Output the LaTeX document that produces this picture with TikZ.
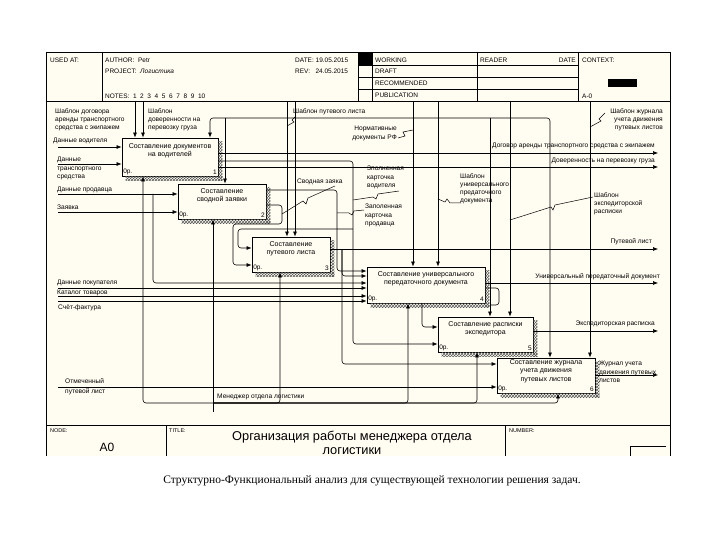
\documentclass[tikz,border=0pt]{standalone}
\usepackage{fontspec}
\setmainfont{Liberation Sans}
\newfontfamily\capfont{Liberation Serif}
\usetikzlibrary{arrows.meta,patterns}
\definecolor{cream}{RGB}{255,253,242}

\tikzset{
frm/.style={line width=1pt},
thn/.style={line width=0.6pt},
ln/.style={line width=0.6pt, rounded corners=3pt},
arr/.style={line width=0.6pt, rounded corners=3pt, -{Latex[length=5pt,width=4pt]}},
sq/.style={line width=0.5pt},
fbox/.style={draw, line width=0.9pt, fill=cream, inner sep=0pt},
btxt/.style={font=\fontsize{7}{8.2}\selectfont, align=center, inner sep=0pt},
bnum/.style={font=\fontsize{6.5}{7}\selectfont, inner sep=1.5pt},
lbl/.style={font=\fontsize{6.6}{8.3}\selectfont, inner sep=0pt, align=left},
rlbl/.style={font=\fontsize{6.6}{8.3}\selectfont, inner sep=0pt, align=right},
hd/.style={font=\fontsize{6.5}{7.5}\selectfont, inner sep=0pt, anchor=west},
}
\newcommand{\hatchbox}[1]{%
\fill[pattern=crosshatch, pattern color=black!65] ([yshift=-4pt]#1.north east) rectangle ([shift={(4pt,-4pt)}]#1.south east);
\fill[pattern=crosshatch, pattern color=black!65] ([xshift=4pt]#1.south west) rectangle ([shift={(4pt,-4pt)}]#1.south east);}

\begin{document}
\begin{tikzpicture}[x=1pt,y=-1pt]
\useasboundingbox (0,0) rectangle (720,540);
% frame
\fill[cream] (46,53) rectangle (670,456);
\draw[frm] (46,456) -- (46,53) -- (670,53) -- (670,456);
\draw[frm] (46,102) -- (670,102);
\draw[frm] (46,425) -- (670,425);
% header
\draw[thn] (102,53) -- (102,102);
\foreach \x in {358,372,477,578} {
\draw[thn] (\x,53) -- (\x,102);
}
\foreach \y in {65,77,89} {
\draw[thn] (358,\y) -- (578,\y);
}
\fill (358,53) rectangle (372,65);
\fill (608,79) rectangle (637,87);
\node[hd] (usedat) at (50,60) {USED AT:};
\node[hd] (author) at (105,60) {AUTHOR:\ \ Petr};
\node[hd] (project) at (105,71) {PROJECT:\ \ \textit{Логистика}};
\node[hd] (notes) at (105,96) {NOTES:\ \ 1\ \ 2\ \ 3\ \ 4\ \ 5\ \ 6\ \ 7\ \ 8\ \ 9\ \ 10};
\node[hd] (date) at (295,60) {DATE:\ 19.05.2015};
\node[hd] (rev) at (295,71) {REV:\ \ \ 24.05.2015};
\node[hd] (working) at (375,60) {WORKING};
\node[hd] (draft) at (375,71.5) {DRAFT};
\node[hd] (recom) at (375,83) {RECOMMENDED};
\node[hd] (publ) at (375,95) {PUBLICATION};
\node[hd] (reader) at (480,60) {READER};
\node[hd, anchor=east] (rdate) at (576,60) {DATE};
\node[hd] (context) at (582,60) {CONTEXT:};
\node[hd] (anull) at (582,96) {A-0};
% title block
\draw[thn] (166,425) -- (166,456);
\draw[thn] (505,425) -- (505,456);
\draw[thn] (630,456) -- (630,446) -- (666,446);
\node[hd, font=\fontsize{5.5}{6}\selectfont] (node) at (50,431) {NODE:};
\node[hd, font=\fontsize{5.5}{6}\selectfont] (title) at (169,431) {TITLE:};
\node[hd, font=\fontsize{5.5}{6}\selectfont] (number) at (509,431) {NUMBER:};
\node[font=\fontsize{12}{13}\selectfont, inner sep=0pt] (nodeA) at (107,447) {A0};
\node[font=\fontsize{12.8}{14}\selectfont, align=center, inner sep=0pt] (ttl) at (352,442.5) {Организация работы менеджера отдела\\логистики};
\node[font=\capfont\fontsize{11.5}{13}\selectfont, inner sep=0pt] (cap) at (372,481) {Структурно-Функциональный анализ для существующей технологии решения задач.};

% boxes
\node[fbox, minimum width=96pt, minimum height=38pt] (b1) at (170,157) {};
\node[fbox, minimum width=88pt, minimum height=35pt] (b2) at (222,201.5) {};
\node[fbox, minimum width=78pt, minimum height=35pt] (b3) at (291,254.5) {};
\node[fbox, minimum width=118pt, minimum height=36pt] (b4) at (426,285) {};
\node[fbox, minimum width=95pt, minimum height=35pt] (b5) at (485.5,334.5) {};
\node[fbox, minimum width=98pt, minimum height=35pt] (b6) at (546,375.5) {};
\foreach \b/\n in {b1/1,b2/2,b3/3,b4/4,b5/5,b6/6} {
\hatchbox{\b}
\node[bnum, anchor=south west] (\b o) at (\b.south west) {0р.};
\node[bnum, anchor=south east] (\b n) at (\b.south east) {\n};
}
\node[btxt, anchor=north] (b1t) at ([yshift=-6pt]b1.north) {Составление документов\\на водителей};
\node[btxt, anchor=north] (b2t) at ([yshift=-5pt]b2.north) {Составление\\сводной заявки};
\node[btxt, anchor=north] (b3t) at ([yshift=-5pt]b3.north) {Составление\\путевого листа};
\node[btxt, anchor=north] (b4t) at ([yshift=-5pt]b4.north) {Составление универсального\\передаточного документа};
\node[btxt, anchor=north] (b5t) at ([yshift=-5pt]b5.north) {Составление расписки\\экспедитора};
\node[btxt, anchor=north] (b6t) at ([yshift=-2pt]b6.north) {Составление журнала\\учета движения\\путевых листов};

% inputs
\draw[arr] (58,147) -- (58,147 -| b1.west);
\draw[arr] (58,164) -- (58,164 -| b1.west);
\draw[arr] (58,194) -- (58,194 -| b2.west);
\draw[arr] (58,212) -- (58,212 -| b2.west);
\draw[arr] (153,194) -- (153,283) -- (153,283 -| b4.west);
\foreach \y in {288,296,301} {
\draw[arr] (58,\y) -- (58,\y -| b4.west);
}
\draw[arr] (58,387) -- (58,387 -| b6.west);
\node[lbl, anchor=west] (lDV) at (53,141) {Данные водителя};
\node[lbl, anchor=north west] (lDT) at (57,157) {Данные\\транспортного\\средства};
\node[lbl, anchor=west] (lDP) at (57,190) {Данные продавца};
\node[lbl, anchor=west] (lZ) at (57,207) {Заявка};
\node[lbl, anchor=west] (lDB) at (57,283) {Данные покупателя};
\node[lbl, anchor=west] (lKT) at (57,292.5) {Каталог товаров};
\node[lbl, anchor=west] (lSF) at (58,308) {Счёт-фактура};
\node[lbl, anchor=west] (lOP1) at (65,381) {Отмеченный};
\node[lbl, anchor=west] (lOP2) at (65,392) {путевой лист};

% controls
\foreach \x/\b in {135/b1,143/b1,287/b3,295/b3,413/b4,438/b4,510/b5,590/b6} {
\draw[arr] (\x,102) -- (\x,102 |- \b.north);
}
\draw[arr] (413,118) -- (210,118) -- (210,118 |- b1.north);
\draw[arr] (413,118) -- (550,118) -- (550,118 |- b6.north);
\draw[arr] (225,118) -- (225,118 |- b2.north);
\draw[arr] (490,118) -- (490,118 |- b5.north);
\node[lbl, anchor=north west] (lSD) at (55,108) {Шаблон договора\\аренды транспортного\\средства с экипажем};
\node[lbl, anchor=north west] (lSV) at (148,108) {Шаблон\\доверенности на\\перевозку груза};
\node[lbl, anchor=west] (lSP) at (293,112) {Шаблон путевого листа};
\node[rlbl, anchor=north east] (lND) at (397,126) {Нормативные\\документы РФ};
\node[lbl, anchor=north west] (lSU) at (460,173) {Шаблон\\универсального\\предаточного\\документа};
\node[rlbl, anchor=north east] (lSJ) at (663,108) {Шаблон журнала\\учета движения\\путевых листов};
\node[lbl, anchor=north west] (lSE) at (594,192) {Шаблон\\экспедиторской\\расписки};
\draw[sq] (296,116) -- (292,120) -- (294,122) -- (287,126);
\draw[sq] (398,138) -- (405,136) -- (403,132) -- (413,130);
\draw[sq] (460,203) -- (450,203) -- (447,199) -- (445,202) -- (438,199);
\draw[sq] (605,113) -- (599,119) -- (601,121) -- (590,127);
\draw[sq] (593,197) -- (555,205) -- (553,210) -- (551,207) -- (510,220);

% outputs
\draw[arr] (b1.east |- 0,153) -- (658,153);
\draw[arr] (b1.east |- 0,167) -- (658,167);
\draw[arr] (b1.east |- 0,161) -- (353,161) -- (353,344) -- (353,344 -| b5.west);
\draw[arr] (353,229) -- (238,229) -- (238,248) -- (238,248 -| b3.west);
\draw[arr] (b2.east |- 0,190) -- (337,190) -- (337,271) -- (337,271 -| b4.west);
\draw[arr] (b2.east |- 0,205) -- (282,205) -- (282,224) -- (233,224) -- (233,265) -- (233,265 -| b3.west);
\draw[arr] (b3.east |- 0,249) -- (658,249);
\draw[arr] (342,249) -- (342,364) -- (342,364 -| b6.west);
\draw[arr] (342,249) -- (342,276) -- (342,276 -| b4.west);
\draw[arr] (b4.east |- 0,283) -- (658,283);
\draw[ln] (b4.east |- 0,288) -- (499,288) -- (499,305) -- (490,305);
\draw[arr] (422,303) -- (422,327) -- (422,327 -| b5.west);
\draw[arr] (b5.east |- 0,331) -- (658,331);
\draw[arr] (b6.east |- 0,375) -- (658,375);
\node[rlbl, anchor=east] (lDA) at (655,146) {Договор аренды транспортного средства с экипажем};
\node[rlbl, anchor=east] (lDG) at (655,161) {Доверенность на перевозку груза};
\node[lbl, anchor=north west] (lKV) at (367,166) {Зполненная\\карточка\\водителя};
\node[lbl, anchor=west] (lSZ) at (297,182) {Сводная заяка};
\node[lbl, anchor=north west] (lKP) at (365,204) {Заполенная\\карточка\\продавца};
\node[rlbl, anchor=east] (lPL) at (652,242) {Путевой лист};
\node[rlbl, anchor=east] (lUP) at (660,277) {Универсальный передаточный документ};
\node[rlbl, anchor=east] (lER) at (655,324) {Экспедиторская расписка};
\node[lbl, anchor=north west] (lJU) at (599,361) {Журнал учета\\движения путевых\\листов};
\draw[sq] (399,191) -- (378,194) -- (376,199) -- (373,197) -- (353,200);
\draw[sq] (364,210) -- (354,211) -- (352,215) -- (349,213) -- (337,213);
\draw[sq] (335,186) -- (308,198) -- (306,204) -- (303,201) -- (282,214);

% mechanism
\draw[arr] (213,412) -- (213,412 |- b2.south);
\foreach \x/\b in {143/b1,280/b3,408/b4,477/b5,558/b6} {
\draw[arr] (213,403) -| (\x,403 |- \b.south);
}
\node[lbl, anchor=west] (lMO) at (217,397) {Менеджер отдела логистики};

\end{tikzpicture}
\end{document}
